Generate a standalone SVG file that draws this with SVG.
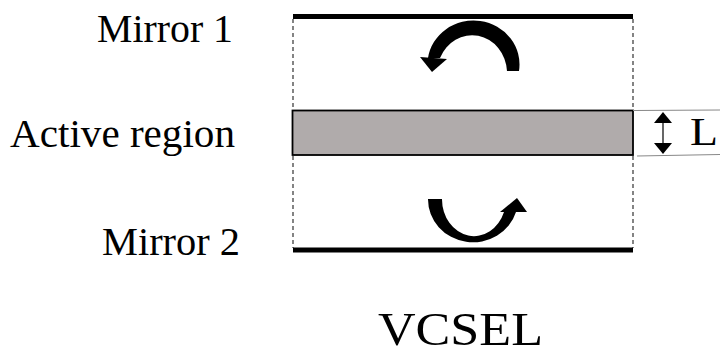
<svg xmlns="http://www.w3.org/2000/svg" width="726" height="354" viewBox="0 0 726 354">
  <style>
    .lbl { font-family: "Liberation Serif", "Times New Roman", serif; fill: #000; }
    .mirror { stroke: #000; stroke-width: 5; fill: none; }
    .edge { stroke: #333; stroke-width: 1.2; stroke-dasharray: 4 3; fill: none; }
    .ext { stroke: #888; stroke-width: 1.2; fill: none; }
  </style>
  <rect width="726" height="354" fill="#fff"/>

  <!-- cavity side walls -->
  <g id="walls">
    <line class="edge" x1="293" y1="19" x2="293" y2="110"/>
    <line class="edge" x1="633" y1="19" x2="633" y2="110"/>
    <line class="edge" x1="293" y1="156" x2="293" y2="248"/>
    <line class="edge" x1="633" y1="156" x2="633" y2="248"/>
  </g>

  <g id="mirror1">
    <line class="mirror" x1="293" y1="16.5" x2="633" y2="16.5"/>
    <text class="lbl" x="97" y="42" font-size="39" textLength="136" lengthAdjust="spacingAndGlyphs">Mirror 1</text>
  </g>

  <g id="active-region">
    <rect x="292.5" y="110.5" width="340.5" height="44.5" fill="#b0abab" stroke="#000" stroke-width="1.8"/>
    <text class="lbl" x="10" y="147" font-size="39" textLength="225" lengthAdjust="spacingAndGlyphs">Active region</text>
  </g>

  <g id="mirror2">
    <line class="mirror" x1="293" y1="250" x2="633" y2="250"/>
    <text class="lbl" x="102" y="255" font-size="39" textLength="138" lengthAdjust="spacingAndGlyphs">Mirror 2</text>
  </g>

  <!-- thickness dimension -->
  <g id="thickness">
    <line class="ext" x1="633" y1="110.5" x2="720" y2="110"/>
    <line class="ext" x1="637" y1="156" x2="720" y2="154.5"/>
    <line x1="663" y1="120" x2="663" y2="146" stroke="#000" stroke-width="1.2"/>
    <polygon points="663,112 654,123 672,123" fill="#000"/>
    <polygon points="663,154 654,143 672,143" fill="#000"/>
    <text class="lbl" x="690" y="145" font-size="39" textLength="28" lengthAdjust="spacingAndGlyphs">L</text>
  </g>

  <!-- circulating light -->
  <g id="connectors">
    <path d="M519,71 A46,44 0 0 0 428,58 L440,58 A35,38 0 0 1 507,71 Z" fill="#000"/>
    <polygon points="420,57 447,59 432,72" fill="#000"/>
    <path d="M428,199 A45,43 0 0 0 516,212 L504,212 A32,37 0 0 1 442,199 Z" fill="#000"/>
    <polygon points="500,212 527,212 517,198" fill="#000"/>
  </g>

  <g id="title">
    <text class="lbl" x="378" y="345" font-size="46" textLength="165" lengthAdjust="spacingAndGlyphs">VCSEL</text>
  </g>
</svg>
